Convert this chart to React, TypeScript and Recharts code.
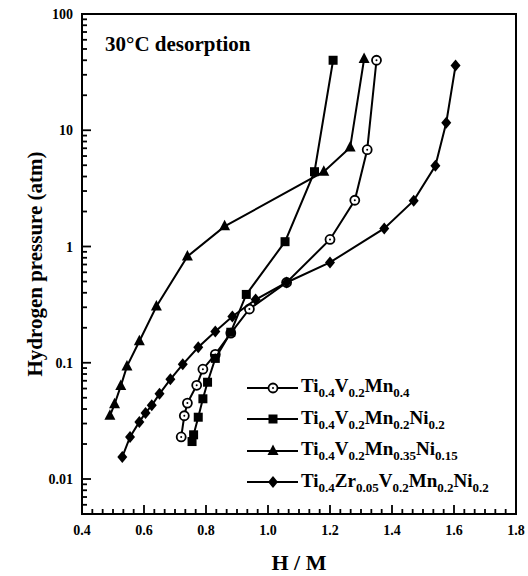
import { ScatterChart, Scatter, XAxis, YAxis } from "recharts";

const xMajor = [0.4, 0.6, 0.8, 1.0, 1.2, 1.4, 1.6, 1.8];
const yMajor = [0.01, 0.1, 1, 10, 100];

// Ti0.4V0.2Mn0.4 (open circle)
const circleH = [0.72, 0.73, 0.74, 0.77, 0.79, 0.83, 0.88, 0.94, 1.06, 1.2, 1.28, 1.32, 1.35];
const circleP = [0.023, 0.035, 0.045, 0.064, 0.088, 0.118, 0.18, 0.29, 0.49, 1.15, 2.5, 6.8, 40];

// Ti0.4V0.2Mn0.2Ni0.2 (square)
const squareH = [0.755, 0.76, 0.775, 0.79, 0.805, 0.83, 0.88, 0.93, 1.055, 1.15, 1.21];
const squareP = [0.021, 0.024, 0.034, 0.049, 0.068, 0.109, 0.183, 0.387, 1.1, 4.4, 40];

// Ti0.4V0.2Mn0.35Ni0.15 (triangle)
const triH = [0.49, 0.505, 0.525, 0.545, 0.585, 0.64, 0.74, 0.86, 1.18, 1.265, 1.31];
const triP = [0.035, 0.044, 0.063, 0.093, 0.153, 0.305, 0.82, 1.49, 4.4, 7.1, 41];

// Ti0.4Zr0.05V0.2Mn0.2Ni0.2 (diamond)
const diaH = [0.53, 0.555, 0.585, 0.605, 0.625, 0.65, 0.685, 0.725, 0.775, 0.83, 0.885, 0.96, 1.06, 1.2, 1.375, 1.47, 1.54, 1.575, 1.605];
const diaP = [0.0155, 0.023, 0.031, 0.037, 0.043, 0.054, 0.072, 0.097, 0.136, 0.186, 0.25, 0.35, 0.49, 0.73, 1.43, 2.48, 4.95, 11.6, 36];

const SERIES = [
  { key: "a", marker: "circle", h: circleH, p: circleP, parts: [["Ti", "0.4"], ["V", "0.2"], ["Mn", "0.4"]] },
  { key: "b", marker: "square", h: squareH, p: squareP, parts: [["Ti", "0.4"], ["V", "0.2"], ["Mn", "0.2"], ["Ni", "0.2"]] },
  { key: "c", marker: "triangle", h: triH, p: triP, parts: [["Ti", "0.4"], ["V", "0.2"], ["Mn", "0.35"], ["Ni", "0.15"]] },
  { key: "d", marker: "diamond", h: diaH, p: diaP, parts: [["Ti", "0.4"], ["Zr", "0.05"], ["V", "0.2"], ["Mn", "0.2"], ["Ni", "0.2"]] },
];

// tick positions (majors + minors)
const isMajorX = (v: number) => xMajor.some((m) => Math.abs(m - v) < 1e-6);
const isMajorY = (v: number) => yMajor.some((m) => Math.abs(m - v) / m < 1e-6);
const xTicks: number[] = [...xMajor];
for (let i = 0; i <= 42; i++) {
  const v = 0.4 + (i * 0.2) / 6;
  if (!isMajorX(v)) xTicks.push(v);
}
const yTicks: number[] = [...yMajor];
for (const dec of [0.001, 0.01, 0.1, 1, 10]) {
  for (let k = 2; k <= 9; k++) {
    const v = k * dec;
    if (v >= 0.005 && v <= 100) yTicks.push(v);
  }
}

const FONT = "'Liberation Serif', 'Times New Roman', serif";

// plot box (matches margins / axis sizes below)
const W = 528, H = 576;
const M = { top: 14, right: 12, bottom: 0, left: 0 };
const Y_AXIS_W = 82, X_AXIS_H = 62;
const FRAME = 2.5;

// tick marks as small filled bars
const vbar = (x: number, y: number, len: number) => <rect x={x - 0.9} y={Math.min(y, y + len)} width={1.8} height={Math.abs(len)} fill="#000" />;
const hbar = (x: number, y: number, len: number) => <rect x={Math.min(x, x + len)} y={y - 0.9} width={Math.abs(len)} height={1.8} fill="#000" />;

function BottomTick({ x, y, payload }: any) {
  const major = isMajorX(payload.value);
  return (
    <g>
      {vbar(x, y, major ? -9 : -5)}
      {major && (
        <text x={x} y={y + 21} textAnchor="middle" fill="#000" fontSize={14} fontWeight={700} fontFamily={FONT}>
          {payload.value.toFixed(1)}
        </text>
      )}
    </g>
  );
}

function TopTick({ x, y, payload }: any) {
  return <g>{vbar(x, y, isMajorX(payload.value) ? 9 : 5)}</g>;
}

function LeftTick({ x, y, payload }: any) {
  const major = isMajorY(payload.value);
  return (
    <g>
      {hbar(x, y, major ? 9 : 5)}
      {major && (
        <text x={x - 9} y={y + 5} textAnchor="end" fill="#000" fontSize={14} fontWeight={700} fontFamily={FONT}>
          {String(payload.value)}
        </text>
      )}
    </g>
  );
}

function RightTick({ x, y, payload }: any) {
  return <g>{hbar(x, y, isMajorY(payload.value) ? -9 : -5)}</g>;
}

function Marker({ kind, cx, cy }: { kind: string; cx?: number; cy?: number }) {
  if (cx == null || cy == null) return null;
  if (kind === "circle")
    return (
      <g>
        <circle cx={cx} cy={cy} r={4.5} fill="#fff" stroke="#000" strokeWidth={1.8} />
        <circle cx={cx} cy={cy} r={1} fill="#000" />
      </g>
    );
  if (kind === "square") return <rect x={cx - 4.5} y={cy - 4.5} width={9} height={9} fill="#000" />;
  if (kind === "triangle")
    return <polygon points={`${cx},${cy - 6.5} ${cx - 5.5},${cy + 4} ${cx + 5.5},${cy + 4}`} fill="#000" />;
  return <polygon points={`${cx},${cy - 6} ${cx + 5},${cy} ${cx},${cy + 6} ${cx - 5},${cy}`} fill="#000" />;
}

function Formula({ parts }: { parts: string[][] }) {
  return (
    <span>
      {parts.map(([el, n], i) => (
        <span key={i}>
          {el}
          <sub style={{ fontSize: 13, verticalAlign: "-5px" }}>{n}</sub>
        </span>
      ))}
    </span>
  );
}

function LegendBox() {
  return (
    <div style={{ fontFamily: FONT, fontWeight: 700, fontSize: 19, color: "#000", lineHeight: 1 }}>
      {SERIES.map((s) => (
        <div key={s.key} style={{ display: "flex", alignItems: "center", height: 31.5 }}>
          <svg width={52} height={16} style={{ marginRight: 2 }}>
            <line x1={0} y1={8} x2={51} y2={8} stroke="#000" strokeWidth={2} />
            <Marker kind={s.marker} cx={26} cy={8} />
          </svg>
          <Formula parts={s.parts} />
        </div>
      ))}
    </div>
  );
}

const hidden = () => null;
const firstData = circleH.map((h, i) => ({ h, p: circleP[i] }));

export default function App() {
  const plotL = M.left + Y_AXIS_W;
  const plotT = M.top;
  const plotW = W - M.right - plotL;
  const plotH = H - M.bottom - X_AXIS_H - plotT;
  return (
    <div style={{ position: "relative", width: W, height: H, background: "#fff" }}>
      <style>{"body{margin:0;background:#fff}"}</style>
      <ScatterChart width={W} height={H} margin={M}>
        <XAxis xAxisId="b" dataKey="h" type="number" domain={[0.4, 1.8]} ticks={xTicks} interval={0}
          tick={BottomTick} tickSize={0} tickMargin={0} tickLine={false} axisLine={false} height={X_AXIS_H} allowDataOverflow
          label={{ value: "H / M", position: "insideBottom", offset: 6, fill: "#000", fontSize: 22, fontWeight: 700, fontFamily: FONT }} />
        <XAxis xAxisId="t" dataKey="h" orientation="top" type="number" domain={[0.4, 1.8]} ticks={xTicks} interval={0}
          tick={TopTick} tickSize={0} tickMargin={0} tickLine={false} axisLine={false} height={0} allowDataOverflow />
        <YAxis yAxisId="l" dataKey="p" type="number" scale="log" domain={[0.005, 100]} ticks={yTicks} interval={0}
          tick={LeftTick} tickSize={0} tickMargin={0} tickLine={false} axisLine={false} width={Y_AXIS_W} allowDataOverflow
          label={{ value: "Hydrogen pressure (atm)", angle: -90, position: "insideLeft", offset: 35, style: { textAnchor: "middle" }, fill: "#000", fontSize: 21, fontWeight: 700, fontFamily: FONT }} />
        <YAxis yAxisId="r" dataKey="p" orientation="right" type="number" scale="log" domain={[0.005, 100]} ticks={yTicks}
          interval={0} tick={RightTick} tickSize={0} tickMargin={0} tickLine={false} axisLine={false} width={0} allowDataOverflow />

        {/* invisible series so the top/right axes are drawn */}
        <Scatter xAxisId="t" yAxisId="r" data={firstData} shape={hidden} isAnimationActive={false} />

        {SERIES.map((s) => (
          <Scatter
            key={s.key}
            xAxisId="b"
            yAxisId="l"
            data={s.h.map((h, i) => ({ h, p: s.p[i] }))}
            line={{ stroke: "#000", strokeWidth: 2 }}
            lineType="joint"
            shape={(props: any) => <Marker kind={s.marker} cx={props.cx} cy={props.cy} />}
            isAnimationActive={false}
          />
        ))}
      </ScatterChart>
      {/* plot frame */}
      <div
        style={{
          position: "absolute",
          left: plotL - FRAME / 2,
          top: plotT - FRAME / 2,
          width: plotW + FRAME,
          height: plotH + FRAME,
          border: `${FRAME}px solid #000`,
          boxSizing: "border-box",
          pointerEvents: "none",
        }}
      />
      <div style={{ position: "absolute", left: 247, top: 372 }}>
        <LegendBox />
      </div>
      <div style={{ position: "absolute", left: 105, top: 32, fontFamily: FONT, fontWeight: 700, fontSize: 21, color: "#000" }}>
        30°C desorption
      </div>
    </div>
  );
}
